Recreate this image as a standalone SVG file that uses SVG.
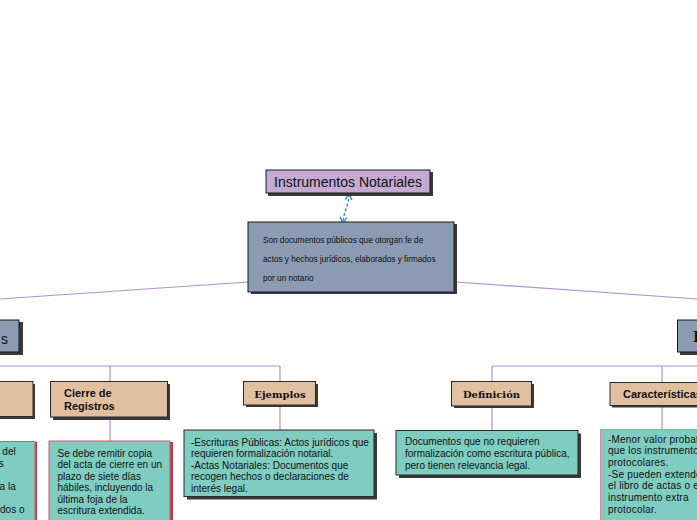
<svg xmlns="http://www.w3.org/2000/svg" width="697" height="520" viewBox="0 0 697 520">
<defs>
<style>
.t{font-family:"Liberation Sans","Noto Sans",sans-serif;fill:#111}
.ser{font-family:"DejaVu Serif","Liberation Serif",serif;font-weight:bold;fill:#111}
.con{fill:none;stroke:#b58fd0;stroke-width:1.2}
.sh{fill:#3a3a3a}
.nd{stroke:#1a1a1a;stroke-width:1}
.tan{fill:#e1c0a0;stroke:#2a2a2a;stroke-width:1}
.teal{fill:#7ecdc0}
</style>
<marker id="ah" viewBox="0 0 6 6" refX="3" refY="3" markerWidth="6" markerHeight="6" orient="auto-start-reverse">
<path d="M0,0.5 L5,3 L0,5.5" fill="none" stroke="#2f7fe0" stroke-width="1"/>
</marker>
</defs>
<rect width="697" height="520" fill="#ffffff"/>

<g id="connectors">
<path class="con" d="M248,282 L0,299"/>
<path class="con" d="M456,282 L697,299"/>
<path class="con" d="M0,366 L280,366 M110,366 V381 M110,417 V441 M280,366 V381 M280,405 V430"/>
<path class="con" d="M492,366 L697,366 M492,366 V381 M492,406 V430 M662,366 V382 M662,405 V429"/>
<path d="M343,221 C344,212 348,206 349,196" fill="none" stroke="#2f7fe0" stroke-width="1.3" stroke-dasharray="3,2" marker-start="url(#ah)" marker-end="url(#ah)"/>
</g>

<g id="n-root">
<rect class="sh" x="268" y="172" width="165" height="24"/>
<rect class="nd" x="266" y="170" width="164" height="23" fill="#c4a9d3"/>
<text class="t" x="348" y="187" font-size="14" text-anchor="middle">Instrumentos Notariales</text>
</g>

<g id="n-def">
<rect class="sh" x="251" y="224" width="206" height="70"/>
<rect class="nd" x="248" y="222" width="206" height="70" fill="#8a9bb3"/>
<text class="t" font-size="8.2" x="263">
<tspan x="263" y="243">Son documentos públicos que otorgan fe de</tspan>
<tspan x="263" y="262">actos y hechos jurídicos, elaborados y firmados</tspan>
<tspan x="263" y="281">por un notario</tspan>
</text>
</g>

<g id="n-left">
<rect class="sh" x="-10" y="322" width="33" height="33"/>
<rect class="nd" x="-12" y="320" width="31" height="32" fill="#8a9bb3"/>
<text class="t" x="8" y="344" font-size="14" text-anchor="end">s</text>
</g>

<g id="n-right">
<rect class="sh" x="680" y="322" width="30" height="33"/>
<rect class="nd" x="677.5" y="320" width="30" height="32" fill="#8a9bb3"/>
<text class="ser" x="693" y="342" font-size="14">I</text>
</g>

<g id="n-lefttan">
<rect class="sh" x="-10" y="384" width="45" height="35"/>
<rect class="tan" x="-12" y="381.5" width="45" height="35"/>
</g>

<g id="n-cierre">
<rect class="sh" x="53" y="384" width="117" height="36"/>
<rect class="tan" x="50.5" y="381.5" width="117" height="35.5"/>
<text class="t" font-size="11" font-weight="bold">
<tspan x="64" y="397">Cierre de</tspan>
<tspan x="64" y="409.5">Registros</tspan>
</text>
</g>

<g id="n-ejemplos">
<rect class="sh" x="246" y="384" width="72" height="23"/>
<rect class="tan" x="243.5" y="381.5" width="72" height="23.5"/>
<text class="ser" x="280" y="397.5" font-size="10" text-anchor="middle">Ejemplos</text>
</g>

<g id="n-definicion">
<rect class="sh" x="454" y="384" width="80" height="24"/>
<rect class="tan" x="451.5" y="381.5" width="80" height="24.5"/>
<text class="ser" x="491.5" y="398" font-size="10" text-anchor="middle">Definición</text>
</g>

<g id="n-caract">
<rect class="sh" x="612" y="384.5" width="90" height="23"/>
<rect class="tan" x="610" y="382.5" width="92" height="23"/>
<text class="t" x="623" y="398" font-size="11" font-weight="bold">Características</text>
</g>

<g id="n-lefttext">
<rect x="-8" y="442" width="45" height="90" fill="#c0394f"/>
<rect x="-10" y="441.5" width="45" height="90" fill="#7ecdc0" stroke="#d6576e" stroke-width="1"/>
<text class="t" font-size="10" text-anchor="end">
<tspan x="18.5" y="455">a del</tspan>
<tspan x="6.5" y="466.5">s</tspan>
<tspan x="18.5" y="489.5">ra la</tspan>
<tspan x="24.5" y="512.5">idos o</tspan>
</text>
</g>

<g id="n-cierretext">
<rect x="52" y="442" width="121" height="90" fill="#c0394f"/>
<rect x="49" y="441" width="121" height="90" fill="#7ecdc0" stroke="#d6576e" stroke-width="1"/>
<text class="t" font-size="10">
<tspan x="57.5" y="456.5">Se debe remitir copia</tspan>
<tspan x="57.5" y="468">del acta de cierre en un</tspan>
<tspan x="57.5" y="479.5">plazo de siete días</tspan>
<tspan x="57.5" y="491">hábiles, incluyendo la</tspan>
<tspan x="57.5" y="502.5">última foja de la</tspan>
<tspan x="57.5" y="514">escritura extendida.</tspan>
</text>
</g>

<g id="n-ejemplostext">
<rect class="sh" x="187" y="433" width="190" height="66.5"/>
<rect x="184" y="430" width="190" height="66.5" fill="#7ecdc0" stroke="#2a2a2a" stroke-width="1"/>
<text class="t" font-size="10">
<tspan x="191" y="445.5">-Escrituras Públicas: Actos jurídicos que</tspan>
<tspan x="191" y="457">requieren formalización notarial.</tspan>
<tspan x="191" y="468.5">-Actas Notariales: Documentos que</tspan>
<tspan x="191" y="480">recogen hechos o declaraciones de</tspan>
<tspan x="191" y="491.5">interés legal.</tspan>
</text>
</g>

<g id="n-definiciontext">
<rect class="sh" x="399" y="433.5" width="182" height="44.5"/>
<rect x="396" y="430.5" width="182" height="44.5" fill="#7ecdc0" stroke="#2a2a2a" stroke-width="1"/>
<text class="t" font-size="10">
<tspan x="405" y="445">Documentos que no requieren</tspan>
<tspan x="405" y="457">formalización como escritura pública,</tspan>
<tspan x="405" y="469">pero tienen relevancia legal.</tspan>
</text>
</g>

<g id="n-caracttext">
<rect x="600.5" y="429.5" width="110" height="100" fill="#7ecdc0" stroke="#e08a9c" stroke-width="1"/>
<text class="t" font-size="10" letter-spacing="0.2">
<tspan x="608" y="442.5">-Menor valor probatorio</tspan>
<tspan x="608" y="454">que los instrumentos</tspan>
<tspan x="608" y="466">protocolares.</tspan>
<tspan x="608" y="477.5">-Se pueden extender en</tspan>
<tspan x="608" y="489">el libro de actas o en</tspan>
<tspan x="608" y="501">instrumento extra</tspan>
<tspan x="608" y="512.5">protocolar.</tspan>
</text>
</g>
</svg>
